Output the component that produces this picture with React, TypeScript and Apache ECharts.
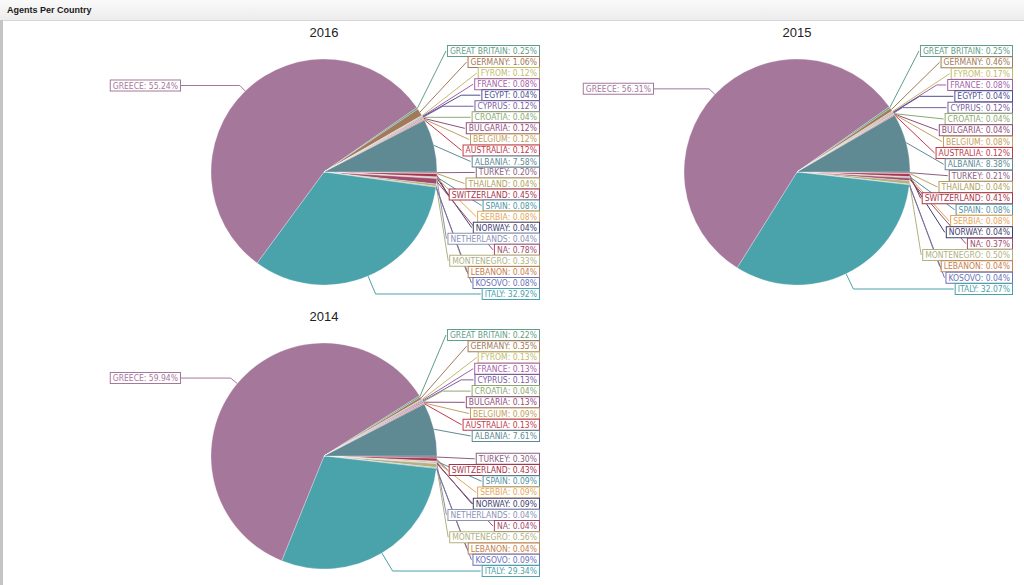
import React, { useEffect, useRef } from 'react';
import * as echarts from 'echarts';

// Slices in clockwise drawing order, starting at 3 o'clock
const names2016 = ['TURKEY', 'THAILAND', 'SWITZERLAND', 'SPAIN', 'SERBIA', 'NORWAY', 'NETHERLANDS', 'NA', 'MONTENEGRO', 'LEBANON', 'KOSOVO', 'ITALY', 'GREECE', 'GREAT BRITAIN', 'GERMANY', 'FYROM', 'FRANCE', 'EGYPT', 'CYPRUS', 'CROATIA', 'BULGARIA', 'BELGIUM', 'AUSTRALIA', 'ALBANIA'];
const values2016 = [0.20, 0.04, 0.45, 0.08, 0.08, 0.04, 0.04, 0.78, 0.33, 0.04, 0.08, 32.92, 55.24, 0.25, 1.06, 0.12, 0.08, 0.04, 0.12, 0.04, 0.12, 0.12, 0.12, 7.58];

const names2015 = ['TURKEY', 'THAILAND', 'SWITZERLAND', 'SPAIN', 'SERBIA', 'NORWAY', 'NA', 'MONTENEGRO', 'LEBANON', 'KOSOVO', 'ITALY', 'GREECE', 'GREAT BRITAIN', 'GERMANY', 'FYROM', 'FRANCE', 'EGYPT', 'CYPRUS', 'CROATIA', 'BULGARIA', 'BELGIUM', 'AUSTRALIA', 'ALBANIA'];
const values2015 = [0.21, 0.04, 0.41, 0.08, 0.08, 0.04, 0.37, 0.50, 0.04, 0.04, 32.07, 56.31, 0.25, 0.46, 0.17, 0.08, 0.04, 0.12, 0.04, 0.04, 0.08, 0.12, 8.38];

const names2014 = ['TURKEY', 'SWITZERLAND', 'SPAIN', 'SERBIA', 'NORWAY', 'NETHERLANDS', 'NA', 'MONTENEGRO', 'LEBANON', 'KOSOVO', 'ITALY', 'GREECE', 'GREAT BRITAIN', 'GERMANY', 'FYROM', 'FRANCE', 'CYPRUS', 'CROATIA', 'BULGARIA', 'BELGIUM', 'AUSTRALIA', 'ALBANIA'];
const values2014 = [0.30, 0.43, 0.09, 0.09, 0.09, 0.04, 0.04, 0.56, 0.04, 0.09, 29.34, 59.94, 0.22, 0.35, 0.13, 0.13, 0.13, 0.04, 0.13, 0.09, 0.13, 7.61];

const years = ['2016', '2015', '2014'];
const chartTitle = 'Agents Per Country';

const countryColors: Record<string, string> = {
  'GREECE': '#a5779b',
  'ITALY': '#4aa2ab',
  'ALBANIA': '#5f8a93',
  'GREAT BRITAIN': '#5f9e88',
  'GERMANY': '#a07a5a',
  'FYROM': '#c2bb6c',
  'FRANCE': '#a45fa8',
  'EGYPT': '#4f4f8f',
  'CYPRUS': '#7a5fa0',
  'CROATIA': '#8ea873',
  'BULGARIA': '#8e4f7d',
  'BELGIUM': '#c2a062',
  'AUSTRALIA': '#c23a4c',
  'TURKEY': '#8c5f82',
  'THAILAND': '#b1a35f',
  'SWITZERLAND': '#a8354a',
  'SPAIN': '#4f93a2',
  'SERBIA': '#e5a657',
  'NORWAY': '#3e3e6e',
  'NETHERLANDS': '#8a93b5',
  'NA': '#a04b6c',
  'MONTENEGRO': '#b0b27f',
  'LEBANON': '#c4804e',
  'KOSOVO': '#6a72b8',
};

// layout (pixels)
const pieLayouts = [
  { cx: 324, cy: 172, top: 121, bottom: 122, step: 11.05 },
  { cx: 797, cy: 172, top: 121, bottom: 117, step: 11.33 },
  { cx: 324, cy: 456, top: 121, bottom: 115, step: 11.22 },
];
const RADIUS = 113;
const LABEL_FONT = "'DejaVu Sans Condensed', 'Liberation Sans', Arial, sans-serif";

function makeLabelLayout(names: string[], L: { cx: number; cy: number; top: number; bottom: number; step: number }) {
  const { cx, cy, top, bottom, step } = L;
  const gi = names.indexOf('GREECE');
  return (p: any) => {
    const i = p.dataIndex;
    const pts = p.labelLinePoints;
    if (!pts || pts.length < 2) return {};
    const p0 = pts[0];
    let dx = pts[1][0] - p0[0];
    let dy = pts[1][1] - p0[1];
    const len = Math.hypot(dx, dy) || 1;
    dx /= len;
    dy /= len;
    const w = p.labelRect.width;
    if (i === gi) {
      const ly = p0[1] - 5.5;
      const t = Math.abs(dy) > 1e-3 ? (ly - p0[1]) / dy : 0;
      const ex = p0[0] + dx * t;
      const rx = cx - 144;
      return {
        x: rx, y: ly, align: 'right', verticalAlign: 'middle',
        labelLinePoints: [[p0[0], p0[1]], [ex, ly], [rx, ly]],
      };
    }
    let ly: number;
    if (i > gi) ly = cy - top + (i - gi - 1) * step;
    else ly = cy + bottom - (gi - 1 - i) * step;
    const rx = cx + 215;
    const bl = rx - w;
    let elbow = [bl, ly];
    if (Math.abs(dy) > 1e-3) {
      const t = (ly - p0[1]) / dy;
      if (t > 0) {
        const ex = p0[0] + dx * t;
        if (ex < bl) elbow = [ex, ly];
      }
    }
    return {
      x: rx, y: ly, align: 'right', verticalAlign: 'middle',
      labelLinePoints: [[p0[0], p0[1]], elbow, [bl, ly]],
    };
  };
}

const yearData = [
  { names: names2016, values: values2016 },
  { names: names2015, values: values2015 },
  { names: names2014, values: values2014 },
];

export default function App() {
  const ref = useRef<HTMLDivElement>(null);
  useEffect(() => {
    if (!ref.current) return;
    const chart = echarts.init(ref.current, undefined, { renderer: 'svg' });
    const series = yearData.map((yd, k) => {
      const L = pieLayouts[k];
      return {
        type: 'pie',
        name: years[k],
        center: [L.cx, L.cy],
        radius: RADIUS,
        startAngle: 0,
        clockwise: true,
        avoidLabelOverlap: false,
        minShowLabelAngle: 0,
        emphasis: { disabled: true },
        itemStyle: { borderColor: 'rgba(255,255,255,0.55)', borderWidth: 0.5 },
        label: {
          show: true,
          position: 'outside',
          formatter: (p: any) => `${p.name}: ${Number(p.value).toFixed(2)}%`,
          fontFamily: LABEL_FONT,
          fontSize: 8.5,
          lineHeight: 9,
          backgroundColor: '#fff',
          borderWidth: 1,
          padding: [1, 2, 0, 2],
        },
        labelLine: { show: true, length: 10, length2: 10, lineStyle: { width: 1 } },
        labelLayout: makeLabelLayout(yd.names, L),
        data: yd.names.map((n, i) => ({
          name: n,
          value: yd.values[i],
          itemStyle: { color: countryColors[n] },
          label: { color: countryColors[n], borderColor: countryColors[n] },
          labelLine: { lineStyle: { color: countryColors[n] } },
        })),
      };
    });
    chart.setOption({
      animation: false,
      backgroundColor: '#ffffff',
      title: [
        {
          text: chartTitle, left: 7, top: 5, padding: 0,
          textStyle: { fontSize: 9, fontWeight: 'bold', color: '#1a1a1a', fontFamily: "'Liberation Sans', Arial, sans-serif" },
        },
        ...years.map((y, k) => ({
          text: y, left: pieLayouts[k].cx, top: pieLayouts[k].cy - 146, padding: 0, textAlign: 'center',
          textStyle: { fontSize: 13, fontWeight: 'normal', color: '#222', fontFamily: "'Liberation Sans', Arial, sans-serif" },
        })),
      ],
      graphic: [
        {
          type: 'rect', z: -10, silent: true,
          shape: { x: 0, y: 0, width: 1024, height: 20 },
          style: {
            fill: new echarts.graphic.LinearGradient(0, 0, 0, 1, [
              { offset: 0, color: '#fafafa' },
              { offset: 1, color: '#ececec' },
            ]),
          },
        },
        { type: 'line', z: -9, silent: true, shape: { x1: 0, y1: 20.5, x2: 1024, y2: 20.5 }, style: { stroke: '#d6d6d6', lineWidth: 1 } },
        { type: 'rect', z: -9, silent: true, shape: { x: 0, y: 20, width: 3, height: 565 }, style: { fill: '#c4c4c4' } },
      ],
      series,
    });
    return () => chart.dispose();
  }, []);
  return <div ref={ref} style={{ position: 'fixed', left: 0, top: 0, width: 1024, height: 585 }} />;
}
